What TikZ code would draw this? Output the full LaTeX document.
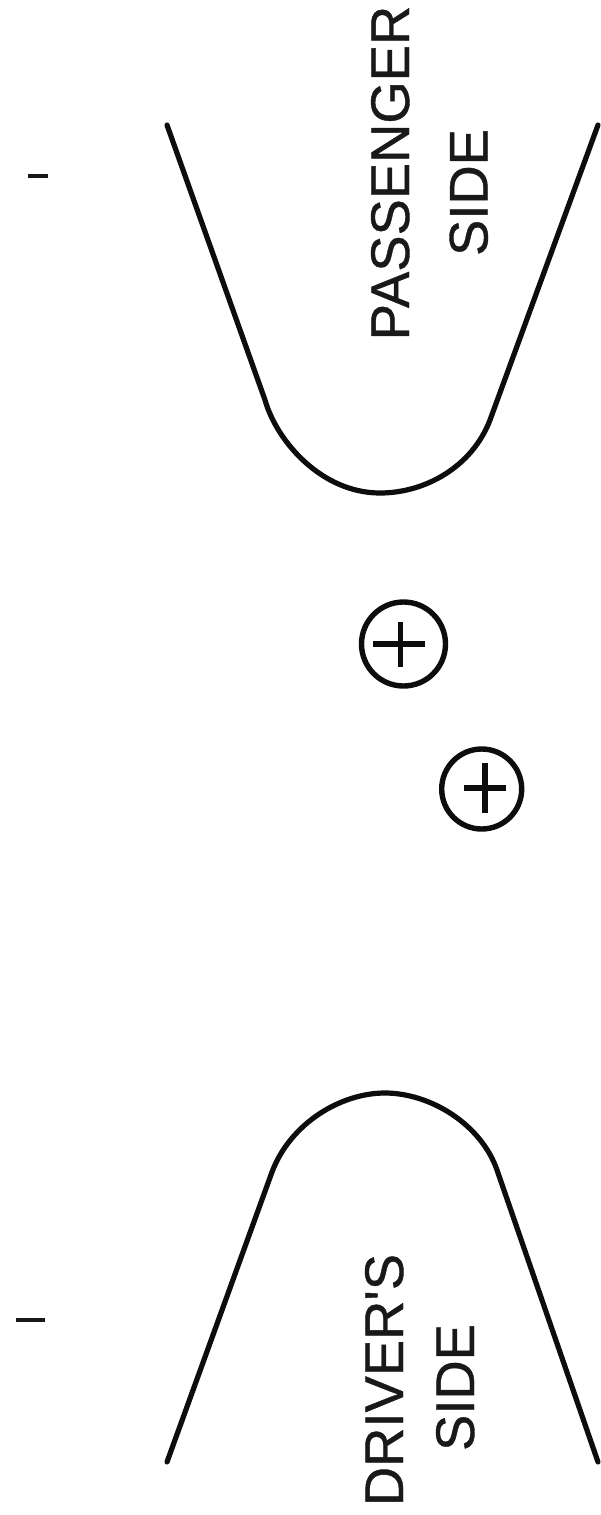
\documentclass[tikz,border=0pt]{standalone}
\usepackage{fontspec}
\newfontfamily\labelfont[AutoFakeBold=0.7]{Liberation Sans}
\tikzset{
  label text/.style={rotate=90,inner sep=0pt,outer sep=0pt,text height=39pt,text depth=0pt,anchor=center,font=\labelfont\bfseries\fontsize{54.4}{55}\selectfont,text=black!90},
  belt/.style={line width=5.2pt,line cap=round,line join=round,black!95},
  ring/.style={circle,draw=black!95,line width=5.4pt,inner sep=0pt,outer sep=0pt},
  stroke/.style={line width=5.4pt,black!95}
}
\begin{document}
\begin{tikzpicture}[x=1pt,y=-1pt]
\useasboundingbox[fill=white] (0,0) rectangle (600,1515);
\coordinate (pa) at (167,125);
\coordinate (pb) at (265,400);
\coordinate (pc) at (380,493);
\coordinate (pd) at (490,420);
\coordinate (pe) at (598,125);
\draw[belt] (pa) -- (pb) .. controls (277,442) and (322,493) .. (pc) .. controls (425,493) and (472,467) .. (pd) -- (pe);
\coordinate (da) at (167,1462);
\coordinate (db) at (272,1172);
\coordinate (dc) at (385,1093);
\coordinate (dd) at (497,1170);
\coordinate (de) at (598,1462);
\draw[belt] (da) -- (db) .. controls (290,1124) and (340,1093) .. (dc) .. controls (430,1093) and (481,1124) .. (dd) -- (de);
\node[label text] (passenger) at (389.5,173) {PASSENGER};
\node[label text] (pside) at (468,192.5) {SIDE};
\node[label text] (driver) at (383.5,1380) {DRIVER'S};
\node[label text] (dside) at (454.5,1387.5) {SIDE};
\node[ring,minimum size=84pt] (ringa) at (403.5,644) {};
\node[ring,minimum size=80pt] (ringb) at (481.7,789) {};
\draw[stroke] (373,644) -- (425,644);
\draw[stroke] (400.7,622) -- (400.7,667);
\draw[stroke] (464,788) -- (506,788);
\draw[stroke] (485,763) -- (485,813);
\draw[line width=4pt,black!90] (28,176) -- (48,176);
\draw[line width=4pt,black!90] (16,1320) -- (45,1320);
\end{tikzpicture}
\end{document}
